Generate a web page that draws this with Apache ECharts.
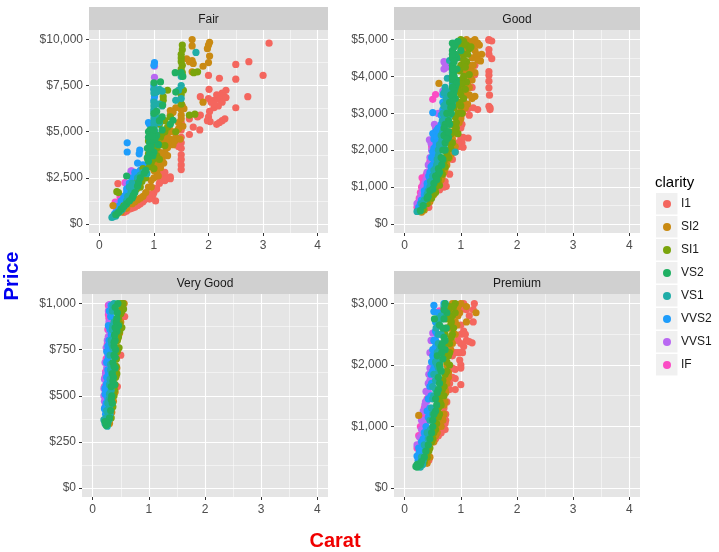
<!DOCTYPE html>
<html><head><meta charset="utf-8">
<style>html,body{margin:0;padding:0;background:#fff}#c{width:719px;height:552px}</style>
<script src="https://cdn.jsdelivr.net/npm/echarts@6/dist/echarts.min.js"></script>
</head><body><div id="c"></div>
<script>
const clarity=['I1','SI2','SI1','VS2','VS1','VVS2','VVS1','IF'];
const clarityColors=['#F4665E','#C98A12','#7AA40C','#20B063','#20ADA8','#1E9DFB','#B968F2','#FB4CC4'];
const drawOrder=[0,7,6,5,1,2,4,3];
const panelNames=['Fair','Good','Very Good','Premium'];
const xTicks=[0,1,2,3,4];
const xMinor=[0.5,1.5,2.5,3.5];
const fairTicks=[0,2500,5000,7500,10000];
const fairMinor=[1250,3750,6250,8750];
const goodTicks=[0,1000,2000,3000,4000,5000];
const goodMinor=[500,1500,2500,3500,4500];
const veryGoodTicks=[0,250,500,750,1000];
const veryGoodMinor=[125,375,625,875];
const premiumTicks=[0,1000,2000,3000];
const premiumMinor=[500,1500,2500];

const fairI1=[[3.11,9800],[3.0,8050],[2.74,8800],[2.5,8650],[2.5,7850],[2.72,6900],[2.5,6300],[2.0,8050],[2.2,7900],[2.01,7300],[2.32,7250],[2.25,7100],[2.15,7000],[2.28,6950],[2.32,6850],[2.2,6750],[2.1,6700],[2.25,6600],[2.0,6800],[2.05,6600],[1.85,6900],[2.18,6400],[2.1,6300],[2.02,6100],[2.1,6500],[1.85,5900],[1.8,5800],[2.0,5800],[1.98,5600],[2.03,5550],[2.3,5700],[2.25,5600],[2.2,5500],[2.15,5400],[1.65,5700],[1.72,5250],[1.84,5100],[1.65,4850],[1.5,4400],[1.5,4100],[1.5,3750],[1.5,3500],[1.5,3200],[1.5,2950],[1.3,2550],[1.25,2500],[1.2,2800],[1.15,2700],[1.1,2200],[1.03,1250],[1.0,1700],[0.95,1600],[0.9,1400],[0.85,1350],[0.8,1200],[0.7,1000],[0.6,850],[0.5,700],[0.34,2190],[1.4,4300],[1.45,4200],[1.5,4700],[1.5,5100],[1.5,5500],[1.0,1950],[1.1,2550],[0.75,1100],[0.88,1650],[1.2,2350],[0.98,1550],[0.92,1350],[0.82,1300],[0.72,1050],[0.65,900],[0.55,800],[0.45,620],[1.12,2350],[1.05,1900],[1.22,2450],[1.3,2450]];
const fairSI2=[[1.7,10000],[1.7,9650],[2.02,9850],[2.0,9700],[1.98,9500],[2.02,9100],[2.0,8750],[1.9,8550],[1.7,8850],[1.6,8950],[1.65,8800],[1.72,8700],[1.7,8250],[1.5,6500],[1.55,6250],[1.4,6300],[1.3,6150],[1.35,5000],[1.25,4900],[1.2,4500],[1.1,4800],[1.0,3400],[1.45,5150],[1.5,5900],[1.53,5300],[1.4,4700],[1.3,4600],[1.35,4300],[1.25,4150],[1.2,3900],[1.15,3500],[1.1,3300],[1.25,3700],[1.05,2800],[1.0,2500],[0.95,2350],[0.9,2000],[0.8,1500],[0.7,1300],[0.6,1100],[0.5,850],[0.4,650],[0.3,500],[0.25,1000],[1.9,6600],[1.3,5900],[1.35,6050],[1.15,4300],[1.05,4500],[1.1,3900],[1.15,4700],[1.2,4700],[1.28,4500],[1.25,4400],[1.15,3800],[1.12,3050],[1.0,2900],[1.02,3200],[1.18,3300],[1.08,2600],[0.95,2000],[0.85,1700],[0.75,1400],[0.65,1200],[1.28,5200],[1.38,4500],[1.48,4600],[1.45,5500],[1.5,5700],[1.5,6200],[1.52,6400]];
const fairSI1=[[1.52,9700],[1.52,9450],[1.5,9200],[1.5,9000],[1.5,8800],[1.52,8600],[1.5,8400],[1.52,8200],[1.5,7300],[1.54,7250],[1.25,7250],[1.17,6900],[1.17,6700],[1.65,5900],[1.8,8250],[1.73,8200],[1.0,4700],[0.9,4500],[0.32,1750],[0.35,1700],[1.3,5800],[1.2,5600],[1.1,5400],[1.0,4200],[0.9,3800],[0.8,3000],[0.7,2300],[0.6,1700],[0.5,1200],[0.4,800],[0.32,550],[1.4,5000],[1.5,6500],[1.5,7000],[1.1,4300],[1.2,5000],[0.95,3300],[1.05,3700],[0.85,2700],[0.75,2000],[1.25,5250],[1.75,5950],[1.02,4500],[1.05,4100],[0.95,3900],[0.98,3500],[0.92,3100],[0.85,2500],[0.78,2300],[0.68,1900],[0.62,1500],[0.55,1300],[0.45,1000],[1.12,4700],[1.15,4900],[1.2,4250],[0.88,3550],[1.0,3000],[1.1,3500]];
const fairVS2=[[1.12,7700],[1.39,8200],[1.5,8200],[1.0,6000],[1.15,5800],[1.1,5600],[1.35,5620],[1.3,5400],[0.5,2600],[1.4,7150],[1.53,8000],[1.05,4800],[0.9,5000],[0.9,4700],[0.92,4400],[0.95,4900],[0.88,4100],[1.0,5100],[1.0,4500],[1.0,3900],[0.9,3400],[0.85,2900],[0.75,2500],[0.7,2050],[0.65,1700],[0.6,1400],[0.5,1100],[0.4,800],[0.3,500],[1.08,4300],[1.15,5100],[1.0,7650],[1.05,6100],[1.16,6450],[0.95,4200],[0.92,3800],[1.02,4600],[0.88,3600],[0.98,3700],[0.82,2750],[0.72,2250],[0.62,1550],[0.55,1250],[0.45,950],[0.35,620],[0.93,5100],[0.97,4750]];
const fairVS1=[[1.0,7300],[1.0,7100],[1.05,7150],[1.1,7300],[1.15,7200],[1.77,9300],[1.5,8000],[1.45,7250],[1.4,6700],[1.0,6600],[1.0,6400],[1.0,6200],[1.0,5900],[1.0,5700],[1.0,5500],[1.0,5300],[1.02,5000],[1.0,4700],[1.1,6500],[1.15,6400],[0.23,350],[0.25,400],[0.3,430],[0.28,500],[0.33,600],[0.42,800],[0.5,1250],[0.55,2000],[0.6,2200],[0.7,2500],[0.87,2730],[1.1,5500],[0.8,2800],[0.92,4700],[0.65,1900],[0.52,1500],[1.5,7500],[1.5,6800],[1.0,6100],[1.0,5200],[1.03,5800],[1.0,4900],[0.95,5000],[0.9,3600],[0.75,2650],[0.62,2100],[0.58,1700],[0.48,1050],[0.38,700],[0.27,450]];
const fairVVS2=[[0.51,4400],[0.51,3900],[1.01,8750],[1.0,8600],[1.0,7500],[1.0,7300],[1.01,6900],[1.0,6700],[0.74,4000],[0.73,3800],[0.7,3300],[0.8,3200],[0.9,5500],[0.92,5400],[0.6,2500],[0.55,2200],[0.5,1900],[0.5,1700],[0.45,1500],[0.4,1100],[0.35,800],[0.3,600],[0.25,400],[0.6,2400],[0.65,2800],[0.75,2900],[0.85,3100],[0.4,1250],[0.35,950],[0.28,550],[0.45,1350],[0.6,2150]];
const fairVVS1=[[1.01,8550],[1.01,7950],[0.58,2860],[0.5,2200],[0.3,900],[0.33,1100],[0.45,1500],[0.6,2000],[0.7,2700],[0.9,3300]];
const fairIF=[[0.38,1465],[0.29,1190],[0.35,1100],[0.47,2240],[0.59,2875],[0.3,1000],[0.4,1300],[0.55,1900]];

const goodI1=[[1.5,5000],[1.55,4960],[1.5,4980],[1.5,4730],[1.5,4600],[1.55,4480],[1.5,4130],[1.5,4030],[1.5,3870],[1.5,3690],[1.51,3490],[1.5,3190],[1.52,3150],[1.52,3100],[1.3,3100],[1.22,3150],[1.13,3130],[1.07,3140],[1.02,3050],[1.0,2900],[1.02,2700],[1.0,2600],[1.13,2330],[1.04,2350],[1.0,2300],[1.02,2200],[1.04,2080],[0.98,2100],[0.85,1750],[0.8,1350],[0.74,1020],[0.72,1150],[0.7,1000],[0.62,920],[0.43,450],[1.25,4300],[1.25,4050],[1.2,3700],[1.15,2950],[0.95,2200],[0.9,1950]];
const goodSI2=[[0.61,3810],[1.25,3460],[1.2,3400],[1.37,4600],[1.35,4420],[1.33,4850],[1.25,5000],[1.1,5000],[1.2,4950],[1.3,4900],[1.25,4700],[1.2,4500],[1.15,4300],[1.1,4100],[1.25,4100],[1.2,3900],[1.15,3700],[1.1,3500],[1.05,3300],[1.0,3100],[1.0,3700],[1.05,3900],[1.1,4700],[1.0,4500],[1.05,4200],[0.95,2900],[0.9,2600],[0.85,2300],[0.8,2000],[0.75,1600],[0.7,1400],[0.65,1200],[0.55,900],[0.45,600],[0.35,380],[0.3,320],[1.0,2850],[0.9,2100],[0.8,1800],[1.12,3250],[1.18,4150],[1.12,4900],[1.22,4800],[1.28,4600],[1.3,4450],[1.22,4300],[1.17,4000],[1.12,3800],[1.08,3600],[1.15,3500],[1.03,3500],[1.08,3150],[1.03,3000],[0.97,2750],[0.93,2450],[0.87,2050],[0.83,1900],[0.77,1750],[0.72,1500],[0.67,1300],[0.6,1100],[0.52,800]];
const goodSI1=[[1.0,5000],[1.05,4950],[1.0,4800],[1.1,4850],[1.15,4750],[1.05,4600],[1.1,4400],[1.0,4300],[1.05,4000],[1.1,3850],[1.0,3900],[1.0,3500],[1.05,3400],[1.0,3200],[0.95,3000],[0.9,3400],[0.9,2900],[0.85,2700],[0.8,2500],[0.85,2200],[0.8,2200],[0.75,1900],[0.7,1700],[0.65,1500],[0.6,1200],[0.55,1000],[0.5,800],[0.4,550],[0.33,400],[0.95,2450],[1.15,4050],[0.95,3700],[0.92,2750],[0.88,3150],[1.0,4650],[1.05,4450],[0.98,4150],[1.02,3800],[1.08,3650],[0.97,3600],[0.98,3300],[1.02,3000],[0.93,3250],[0.92,2600],[0.88,2500],[0.83,2450],[0.82,2050],[0.78,1800],[0.72,1550],[0.67,1350],[0.62,1050],[0.55,850],[0.48,700],[1.12,4600],[1.18,4800],[1.08,4250]];
const goodVS2=[[0.85,4700],[0.85,4500],[0.85,4300],[0.87,4100],[0.85,3900],[0.9,3700],[0.87,3500],[0.9,4850],[0.95,4950],[1.0,4700],[0.93,4500],[0.93,4200],[0.92,3900],[0.75,3000],[0.78,2800],[0.72,2700],[0.8,3300],[0.7,2400],[0.72,2200],[0.68,2000],[0.65,1800],[0.6,1500],[0.55,1300],[0.52,1100],[0.45,900],[0.4,700],[0.33,500],[0.28,360],[0.7,2600],[0.75,2500],[0.82,3150],[0.78,2350],[0.6,1350],[0.88,4800],[0.9,4600],[0.88,4400],[0.9,4200],[0.88,4000],[0.92,3800],[0.88,3600],[0.9,3400],[0.85,3200],[0.83,3000],[0.8,2700],[0.78,2500],[0.75,2300],[0.72,2000],[0.68,1750],[0.66,1600],[0.62,1400],[0.57,1200],[0.5,950],[0.42,750],[0.85,4900],[0.85,4600],[0.85,4200],[0.85,4000],[0.85,3700],[0.85,3500],[0.85,3350],[0.82,3500]];
const goodVS1=[[0.8,4430],[0.76,3950],[0.72,3700],[0.7,3550],[0.74,3400],[0.7,3200],[0.72,3000],[0.68,2800],[0.9,1950],[0.85,4300],[0.85,4100],[0.85,3800],[0.65,2400],[0.7,2200],[0.6,2000],[0.58,1750],[0.55,1500],[0.5,1300],[0.45,1000],[0.4,800],[0.3,550],[0.25,350],[0.22,340],[0.7,2100],[0.65,1600],[0.85,3600],[0.72,2550],[0.8,2950],[0.85,3300],[0.55,1200],[0.73,3250],[0.75,3100],[0.7,2950],[0.7,2700],[0.75,2700],[0.68,2500],[0.66,2250],[0.62,2150],[0.6,1850],[0.63,1700],[0.57,1600],[0.52,1450],[0.5,1150],[0.46,1150],[0.42,900],[0.35,650],[0.78,3500],[0.74,3600],[0.68,3000]];
const goodVVS2=[[0.5,3020],[0.9,4900],[0.55,2500],[0.5,2450],[0.52,2300],[0.57,2350],[0.6,2150],[0.55,2100],[0.5,1950],[0.48,1800],[0.55,1800],[0.5,1600],[0.45,1400],[0.45,1200],[0.4,1100],[0.35,900],[0.3,650],[0.25,450],[0.7,3300],[0.68,3100],[0.65,2950],[0.7,3500],[0.58,2550],[0.65,2700],[0.6,2600],[0.62,2450],[0.56,2200],[0.52,2050],[0.52,1750],[0.47,1550],[0.43,1300],[0.4,1000],[0.35,800],[0.28,550],[0.7,3000],[0.67,2800],[0.72,3600],[0.58,2000],[0.68,3300],[0.68,3500]];
const goodVVS1=[[0.7,4400],[0.72,4350],[0.7,4200],[0.75,4250],[0.53,2700],[0.55,2600],[0.44,2280],[0.47,2180],[0.45,1800],[0.42,1600],[0.4,1400],[0.38,1200],[0.33,1000],[0.3,800],[0.28,700],[0.22,550],[0.3,500],[0.25,430],[0.6,2990],[0.5,1500],[0.68,3600],[0.45,1000],[0.48,2000],[0.48,1700],[0.42,1400],[0.4,1250],[0.36,1100],[0.32,900],[0.26,600],[0.24,500],[0.52,1800]];
const goodIF=[[0.5,3380],[0.55,3510],[0.31,1250],[0.38,1320],[0.4,1400],[0.3,1000],[0.48,2100],[0.26,700],[0.22,450],[0.35,1150],[0.45,1700],[0.6,3000],[0.33,1100],[0.28,850],[0.25,600]];

const veryGoodI1=[[0.57,930],[0.5,720],[0.44,550],[0.53,930],[0.55,1000],[0.42,610]];
const veryGoodSI2=[[0.56,1000],[0.52,990],[0.48,840],[0.45,810],[0.43,650],[0.42,700],[0.4,520],[0.37,470],[0.34,410],[0.3,350],[0.45,760],[0.5,900]];
const veryGoodSI1=[[0.54,1000],[0.52,960],[0.55,970],[0.5,945],[0.52,870],[0.48,890],[0.47,760],[0.44,800],[0.42,700],[0.43,620],[0.4,560],[0.38,500],[0.36,440],[0.33,380],[0.5,1000],[0.46,920],[0.47,960],[0.48,850],[0.46,820],[0.44,740],[0.42,660],[0.41,600],[0.39,530]];
const veryGoodVS2=[[0.45,1000],[0.44,950],[0.42,900],[0.43,850],[0.4,800],[0.41,750],[0.38,720],[0.4,650],[0.37,600],[0.39,560],[0.33,550],[0.34,500],[0.35,460],[0.32,420],[0.3,380],[0.27,350],[0.24,340],[0.22,360],[0.46,880],[0.36,680],[0.38,770],[0.4,980],[0.43,920],[0.4,870],[0.39,830],[0.38,790],[0.4,710],[0.38,660],[0.35,620],[0.36,580],[0.33,480]];
const veryGoodVS1=[[0.38,1000],[0.36,990],[0.4,960],[0.38,900],[0.35,860],[0.38,820],[0.34,780],[0.36,720],[0.32,670],[0.34,620],[0.31,590],[0.33,530],[0.29,480],[0.3,440],[0.27,410],[0.24,380],[0.22,350],[0.26,335],[0.25,345],[0.2,370],[0.29,370],[0.31,400],[0.35,960],[0.36,880],[0.33,800],[0.36,760],[0.31,720],[0.32,640],[0.3,560],[0.3,510],[0.27,460],[0.25,420],[0.24,360]];
const veryGoodVVS2=[[0.33,990],[0.32,930],[0.31,860],[0.33,830],[0.29,800],[0.27,770],[0.25,740],[0.28,710],[0.25,680],[0.27,640],[0.25,600],[0.24,560],[0.27,540],[0.22,510],[0.24,460],[0.21,430],[0.23,400],[0.3,750],[0.3,960],[0.28,880],[0.3,780],[0.28,740],[0.26,690],[0.28,620],[0.26,570],[0.22,540],[0.26,490],[0.23,440]];
const veryGoodVVS1=[[0.3,995],[0.28,960],[0.29,900],[0.3,850],[0.26,800],[0.24,760],[0.22,680],[0.25,650],[0.23,620],[0.21,590],[0.2,540],[0.2,500],[0.21,470],[0.22,440],[0.27,720],[0.28,820]];
const veryGoodIF=[[0.28,990],[0.28,940],[0.29,880],[0.27,860],[0.28,820],[0.26,780],[0.24,700],[0.23,630],[0.22,600],[0.21,550],[0.29,920]];

const premiumI1=[[1.24,3000],[1.22,2700],[1.2,2360],[1.15,2380],[1.1,2400],[1.05,2300],[1.0,2500],[1.0,2650],[1.03,2200],[0.98,2080],[1.0,2000],[1.0,1950],[0.9,1930],[1.0,1680],[0.9,1600],[0.9,1780],[0.85,1800],[0.72,950],[0.73,1100],[0.73,1200],[0.7,1300],[0.6,850],[0.55,800],[0.43,450],[1.15,2800],[1.05,3000],[1.1,2900],[1.0,2900],[0.9,2200],[0.85,2150],[0.95,2400],[0.8,1700],[0.75,1400],[0.65,900],[0.5,750],[1.22,2900],[1.0,2350],[1.05,2550],[0.72,1050],[0.7,1150],[0.66,1000],[0.8,1600],[0.85,1950],[0.95,2200],[1.08,2500],[1.0,2200]];
const premiumSI2=[[1.27,2850],[0.25,1180],[1.1,2700],[1.1,2950],[1.0,3000],[0.95,2950],[0.9,2700],[0.85,3000],[0.9,2500],[0.85,2350],[0.82,2250],[0.75,2000],[0.75,1700],[0.72,1600],[0.72,1400],[0.7,1200],[0.68,1100],[0.6,1000],[0.55,850],[0.45,500],[0.4,400],[0.8,2600],[0.9,2900],[0.78,1880],[0.95,2800],[0.98,2850],[0.93,2650],[0.87,2500],[0.83,2400],[0.8,2300],[0.78,1800],[0.73,1550],[0.7,1350],[0.66,1150],[0.65,1000],[0.58,900],[0.52,750],[0.82,2750],[0.8,2850]];
const premiumSI1=[[0.9,3000],[0.8,2950],[0.85,2800],[0.9,2850],[0.85,2500],[0.8,2350],[0.78,2150],[0.8,2000],[0.72,1850],[0.7,1650],[0.65,1500],[0.6,1300],[0.6,1150],[0.55,950],[0.5,800],[0.45,650],[0.4,500],[0.35,420],[0.75,2750],[0.72,2500],[0.82,2650],[0.7,2350],[0.7,1500],[0.65,1350],[0.87,2950],[0.83,2700],[0.87,2600],[0.83,2450],[0.8,2200],[0.75,2050],[0.75,1900],[0.68,1750],[0.67,1600],[0.63,1400],[0.62,1200],[0.57,1050],[0.52,900],[0.48,750],[0.43,600],[0.78,2900],[0.75,2600],[0.73,2200]];
const premiumVS2=[[0.72,3000],[0.75,2850],[0.7,2750],[0.74,2600],[0.7,2450],[0.72,2250],[0.65,2300],[0.68,2100],[0.62,2000],[0.65,1900],[0.6,1800],[0.6,1600],[0.55,1450],[0.55,1250],[0.5,1100],[0.48,900],[0.42,700],[0.35,500],[0.28,380],[0.22,340],[0.25,370],[0.53,2750],[0.62,2650],[0.58,2150],[0.7,2900],[0.68,2600],[0.72,2400],[0.66,2200],[0.63,1950],[0.62,1700],[0.58,1550],[0.57,1350],[0.52,1200],[0.5,1000],[0.45,800],[0.38,600],[0.3,430],[0.22,380],[0.2,350],[0.67,2350]];
const premiumVS1=[[0.7,2950],[0.65,2800],[0.6,2650],[0.56,2600],[0.65,2500],[0.6,2350],[0.58,2200],[0.55,2050],[0.6,1950],[0.55,1750],[0.5,1650],[0.52,1500],[0.48,1300],[0.45,1100],[0.4,900],[0.35,700],[0.3,500],[0.25,400],[0.28,340],[0.32,380],[0.52,1850],[0.62,2050],[0.67,2750],[0.62,2750],[0.6,2500],[0.62,2250],[0.58,2000],[0.57,1850],[0.55,1600],[0.5,1450],[0.5,1200],[0.46,950],[0.42,800],[0.37,600],[0.33,450],[0.58,2750]];
const premiumVVS2=[[0.52,2970],[0.52,2870],[0.72,3000],[0.7,3000],[0.55,2550],[0.52,2400],[0.5,2250],[0.55,2300],[0.5,2150],[0.52,1950],[0.47,1850],[0.45,1650],[0.42,1450],[0.4,1250],[0.38,1000],[0.35,900],[0.3,750],[0.25,650],[0.22,520],[0.48,2050],[0.6,2850],[0.55,2700],[0.57,2700],[0.58,2500],[0.55,2400],[0.52,2100],[0.55,2150],[0.5,1900],[0.48,1700],[0.47,1500],[0.45,1300],[0.42,1150],[0.38,850],[0.33,800],[0.3,650],[0.26,580],[0.24,450]];
const premiumVVS1=[[0.62,2750],[0.5,2520],[0.45,1950],[0.43,1850],[0.45,1650],[0.42,1570],[0.38,1570],[0.4,1420],[0.38,1300],[0.33,1250],[0.3,1100],[0.3,950],[0.27,820],[0.22,700],[0.27,540],[0.35,1100],[0.47,2400],[0.42,1700],[0.37,1400],[0.35,850],[0.45,1750],[0.43,1500],[0.36,1350],[0.33,1050],[0.3,850],[0.25,700],[0.4,1250],[0.37,1050],[0.45,2200],[0.42,1250]];
const premiumIF=[[0.3,1150],[0.28,1000],[0.35,1300],[0.25,850],[0.22,650],[0.4,1450],[0.62,2880],[0.33,1180]];

const panelData=[
 [fairI1,fairSI2,fairSI1,fairVS2,fairVS1,fairVVS2,fairVVS1,fairIF],
 [goodI1,goodSI2,goodSI1,goodVS2,goodVS1,goodVVS2,goodVVS1,goodIF],
 [veryGoodI1,veryGoodSI2,veryGoodSI1,veryGoodVS2,veryGoodVS1,veryGoodVVS2,veryGoodVVS1,veryGoodIF],
 [premiumI1,premiumSI2,premiumSI1,premiumVS2,premiumVS1,premiumVVS2,premiumVVS1,premiumIF]
];
const layout=[
 {x0:89,x1:328,y0:30,y1:233,stripTop:7,xMin:-0.19,xMax:4.19,yMin:-490,yMax:10515,ticks:fairTicks,minor:fairMinor},
 {x0:394,x1:640,y0:30,y1:233,stripTop:7,xMin:-0.19,xMax:4.19,yMin:-245,yMax:5258,ticks:goodTicks,minor:goodMinor},
 {x0:82,x1:328,y0:294,y1:497,stripTop:271,xMin:-0.19,xMax:4.19,yMin:-49,yMax:1052,ticks:veryGoodTicks,minor:veryGoodMinor},
 {x0:394,x1:640,y0:294,y1:497,stripTop:271,xMin:-0.19,xMax:4.19,yMin:-147,yMax:3155,ticks:premiumTicks,minor:premiumMinor}
];
const money=v=>'$'+Number(v).toLocaleString('en-US');
const font='"Liberation Sans", Arial, sans-serif';
const grid=[],xAxis=[],yAxis=[],series=[],graphic=[];
const major={show:true,lineStyle:{color:'#fff',width:1.1,opacity:1}};
const thin={show:true,lineStyle:{color:'#fff',width:0.55,opacity:0.9}};
layout.forEach((p,i)=>{
  grid.push({left:p.x0,top:p.y0,width:p.x1-p.x0,height:p.y1-p.y0,show:true,backgroundColor:'#E5E5E5',borderWidth:0});
  const mk=(kind,vals,isMajor,fmt)=>{
    const a=kind==='x'?{min:p.xMin,max:p.xMax,position:'bottom'}:{min:p.yMin,max:p.yMax,position:'left'};
    return Object.assign(a,{type:'value',gridIndex:i,axisLine:{show:false,onZero:false},
      axisTick:{show:isMajor,customValues:vals,length:3,lineStyle:{color:'#333',width:1}},
      axisLabel:{show:isMajor,customValues:vals,color:'#4D4D4D',fontSize:12,fontFamily:font,margin:kind==='x'?7:6,formatter:fmt},
      splitLine:isMajor?major:thin,minorSplitLine:{show:false},minorTick:{show:false}});
  };
  const base=xAxis.length;
  xAxis.push(mk('x',xMinor,false,v=>''));
  xAxis.push(mk('x',xTicks,true,v=>String(v)));
  yAxis.push(mk('y',p.minor,false,v=>''));
  yAxis.push(mk('y',p.ticks,true,money));
  drawOrder.forEach(k=>{
    series.push({type:'scatter',name:clarity[k],xAxisIndex:base+1,yAxisIndex:base+1,data:panelData[i][k],symbol:'circle',symbolSize:7.2,
      itemStyle:{color:clarityColors[k],opacity:1},z:5,silent:true});
  });
  graphic.push({type:'rect',shape:{x:p.x0,y:p.stripTop,width:p.x1-p.x0,height:p.y0-p.stripTop},style:{fill:'#D0D0D0'},silent:true});
  graphic.push({type:'text',x:(p.x0+p.x1)/2,y:(p.stripTop+p.y0)/2+1.5,style:{text:panelNames[i],fill:'#1A1A1A',font:'12px '+font,textAlign:'center',textVerticalAlign:'middle'},silent:true});
});
clarity.forEach((c,i)=>{
  graphic.push({type:'rect',shape:{x:656,y:193+23*i,width:21.5,height:21.5},style:{fill:'#F0F0F0'},silent:true});
});
graphic.push({type:'text',x:655,y:183,style:{text:'clarity',fill:'#000',font:'15px '+font,textAlign:'left',textVerticalAlign:'middle'},silent:true});
graphic.push({type:'text',x:335,y:541,style:{text:'Carat',fill:'#F00000',font:'bold 20px '+font,textAlign:'center',textVerticalAlign:'middle'},silent:true});
graphic.push({type:'text',x:12,y:276,rotation:Math.PI/2,style:{text:'Price',fill:'#0000F0',font:'bold 20px '+font,textAlign:'center',textVerticalAlign:'middle'},silent:true});

const chart=echarts.init(document.getElementById('c'),null,{renderer:'canvas'});
chart.setOption({animation:false,backgroundColor:'#fff',grid,xAxis,yAxis,series,graphic,
  legend:{data:clarity.map(n=>({name:n,icon:'circle'})),orient:'vertical',left:663,top:198,padding:0,itemWidth:8,itemHeight:8,itemGap:11,selectedMode:false,z:10,
    textStyle:{color:'#1A1A1A',fontSize:12,fontFamily:font,lineHeight:11,padding:[0,0,0,5]}}
});
</script></body></html>
